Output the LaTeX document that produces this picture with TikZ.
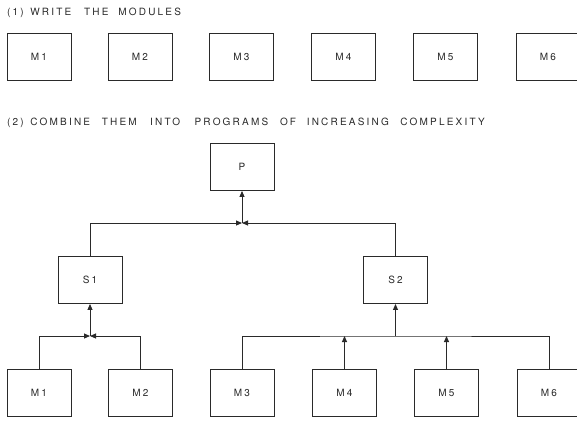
\documentclass[tikz,border=0pt]{standalone}
\usepackage{fontspec}
\setmainfont{TeX Gyre Heros}
\usetikzlibrary{arrows.meta}
\definecolor{ink}{HTML}{2A2A2A}
\newcommand{\gap}[1]{\hspace{#1pt}}
\begin{document}
\begin{tikzpicture}[x=1pt,y=-1pt,
  modbox/.style={draw=ink,line width=0.9pt,minimum width=64pt,minimum height=47pt,inner sep=0pt,
    font=\fontsize{10}{12}\selectfont\addfontfeatures{LetterSpace=22},text=ink},
  heading/.style={anchor=west,inner sep=0pt,font=\fontsize{10}{12}\selectfont\addfontfeatures{LetterSpace=22},text=ink},
  conn/.style={draw=ink,line width=0.9pt},
  arr/.style={conn,-{Triangle[length=6pt,width=5pt]}}]
\clip (0,0) rectangle (577,421);
\fill[white] (0,0) rectangle (577,421);
% headings
\node[heading] (h1) at (7,13) {(1)\gap{6.5}WRITE\gap{12.8}THE\gap{9.8}MODULES};
\node[heading] (h2) at (7,123) {(2)\gap{6.5}COMBINE\gap{11.8}THEM\gap{13.3}INTO\gap{14.4}PROGRAMS\gap{11.8}OF\gap{10.8}INCREASING\gap{11.5}COMPLEXITY};
% top row
\node[modbox] (tM1) at (39,56.5) {M1};
\node[modbox] (tM2) at (140,56.5) {M2};
\node[modbox] (tM3) at (241.5,56.5) {M3};
\node[modbox] (tM4) at (343.5,56.5) {M4};
\node[modbox] (tM5) at (445.5,56.5) {M5};
\node[modbox] (tM6) at (548,56.5) {M6};
% hierarchy
\node[modbox] (P) at (242,167) {P};
\node[modbox] (S1) at (90,280) {S1};
\node[modbox] (S2) at (395.5,280) {S2};
\node[modbox] (M1) at (39,393) {M1};
\node[modbox] (M2) at (140.5,393) {M2};
\node[modbox] (M3) at (242,393) {M3};
\node[modbox] (M4) at (344.5,393) {M4};
\node[modbox] (M5) at (446.5,393) {M5};
\node[modbox] (M6) at (549,393) {M6};
\coordinate (jP) at (242,223);
\coordinate (j1) at (90,336);
\coordinate (j2) at (395.5,336);
% P level
\draw[arr] (S1.north) |- (jP);
\draw[arr] (S2.north) |- (jP);
\draw[arr] (jP) -- (P.south);
% S1 level
\draw[arr] (M1.north) |- (j1);
\draw[arr] (M2.north) |- (j1);
\draw[arr] (j1) -- (S1.south);
% S2 level
\draw[conn] (M3.north) |- (j2) -| (M6.north);
\draw[arr] (j2) -- (S2.south);
\draw[arr] (M4.north) -- (M4.north |- j2);
\draw[arr] (M5.north) -- (M5.north |- j2);
\end{tikzpicture}
\end{document}
